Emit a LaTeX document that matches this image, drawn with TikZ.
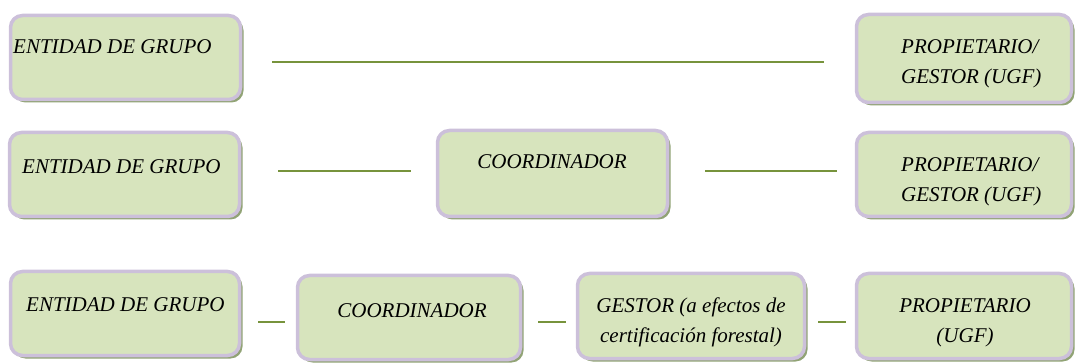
\documentclass[tikz,border=0pt]{standalone}
\usepackage{fontspec}
\setmainfont{Liberation Serif}
\usetikzlibrary{shadows}
\definecolor{boxfill}{RGB}{215,228,189}
\definecolor{boxedge}{RGB}{204,192,218}
\definecolor{boxshadow}{RGB}{145,163,117}
\definecolor{linkgreen}{RGB}{119,147,60}
\tikzset{
  box/.style={rectangle, rounded corners=12pt, fill=boxfill, draw=boxedge, line width=3.5pt,
    drop shadow={shadow xshift=3pt, shadow yshift=-3pt, fill=boxshadow, opacity=1},
    inner sep=0pt},
  lbl/.style={font=\fontsize{21}{30}\selectfont\itshape, inner sep=0pt},
  link/.style={draw=linkgreen, line width=2.5pt}
}
\begin{document}
\begin{tikzpicture}[x=1pt,y=-1pt]
\useasboundingbox (0,0) rectangle (1076,363);
% row 1
\node[box, minimum width=230pt, minimum height=84pt] (e1) at (125.5,57.5) {};
\node[box, minimum width=215pt, minimum height=88pt] (p1) at (964,58.5) {};
\node[lbl, anchor=base west] (te1) at (13,54) {ENTIDAD DE GRUPO};
\node[lbl, anchor=base west, align=left] (tp1) at (901,84) {PROPIETARIO/\\GESTOR (UGF)};
\coordinate (l1a) at (272,62); \coordinate (l1b) at (824,62);
\draw[link] (l1a) -- (l1b);
% row 2
\node[box, minimum width=230pt, minimum height=84pt] (e2) at (124.5,174.5) {};
\node[box, minimum width=230pt, minimum height=86pt] (c2) at (552.5,173.5) {};
\node[box, minimum width=215pt, minimum height=84pt] (p2) at (964,174.5) {};
\node[lbl, anchor=base west] (te2) at (22,174) {ENTIDAD DE GRUPO};
\node[lbl, anchor=base] (tc2) at (552,169) {COORDINADOR};
\node[lbl, anchor=base west, align=left] (tp2) at (901,202) {PROPIETARIO/\\GESTOR (UGF)};
\coordinate (l2a) at (278,171); \coordinate (l2b) at (411,171);
\coordinate (l2c) at (705,171); \coordinate (l2d) at (837,171);
\draw[link] (l2a) -- (l2b);
\draw[link] (l2c) -- (l2d);
% row 3
\node[box, minimum width=229pt, minimum height=84pt] (e3) at (125,313.5) {};
\node[box, minimum width=223pt, minimum height=84pt] (c3) at (409,317.5) {};
\node[box, minimum width=227pt, minimum height=85pt] (g3) at (691,316) {};
\node[box, minimum width=215pt, minimum height=85pt] (p3) at (964,316) {};
\node[lbl, anchor=base west] (te3) at (26,312) {ENTIDAD DE GRUPO};
\node[lbl, anchor=base] (tc3) at (412,317) {COORDINADOR};
\node[lbl, anchor=base, align=center] (tg3) at (691,342) {GESTOR (a efectos de\\certificación forestal)};
\node[lbl, anchor=base, align=center] (tp3) at (965,342) {PROPIETARIO\\(UGF)};
\coordinate (l3a) at (258,322); \coordinate (l3b) at (285,322);
\coordinate (l3c) at (538,322); \coordinate (l3d) at (566,322);
\coordinate (l3e) at (818,322); \coordinate (l3f) at (846,322);
\draw[link] (l3a) -- (l3b);
\draw[link] (l3c) -- (l3d);
\draw[link] (l3e) -- (l3f);
\end{tikzpicture}
\end{document}
